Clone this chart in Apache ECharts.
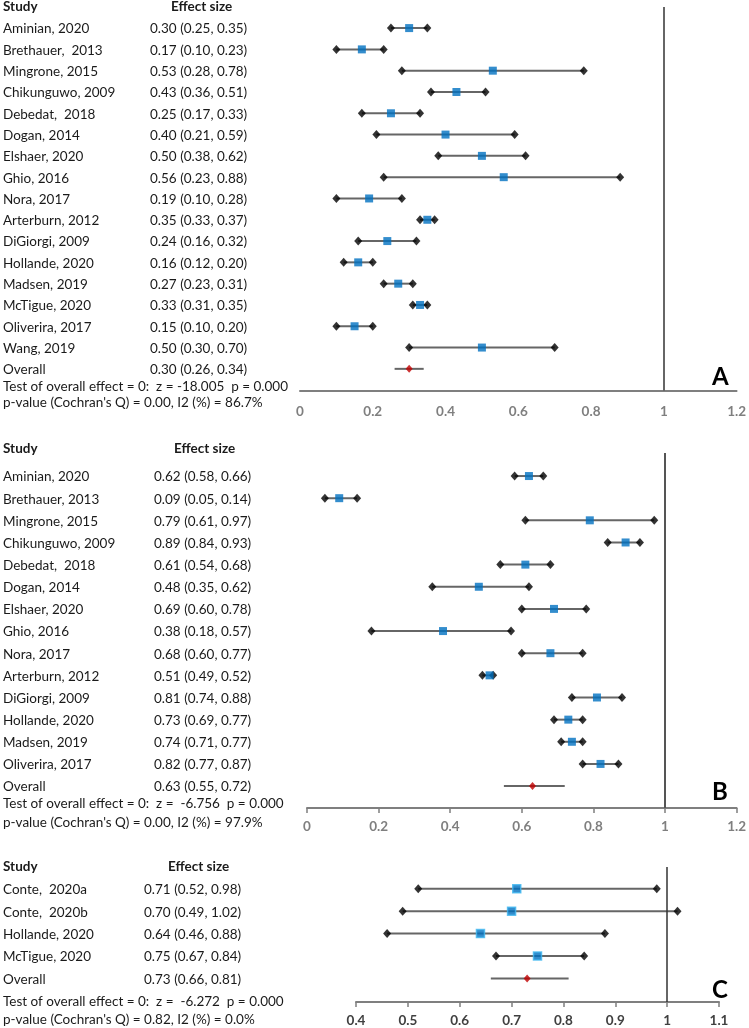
<!DOCTYPE html>
<html><head><meta charset="utf-8">
<script src="https://cdn.jsdelivr.net/npm/echarts@6/dist/echarts.min.js"></script>
<style>html,body{margin:0;padding:0;background:#fff}#c{width:749px;height:1028px}</style>
</head><body><div id="c"></div>
<script>
// ---------- Panel A ----------
const studiesA = ['Aminian, 2020','Brethauer,  2013','Mingrone, 2015','Chikunguwo, 2009','Debedat,  2018','Dogan, 2014','Elshaer, 2020','Ghio, 2016','Nora, 2017','Arterburn, 2012','DiGiorgi, 2009','Hollande, 2020','Madsen, 2019','McTigue, 2020','Oliverira, 2017','Wang, 2019'];
const esA = [0.30,0.17,0.53,0.43,0.25,0.40,0.50,0.56,0.19,0.35,0.24,0.16,0.27,0.33,0.15,0.50];
const loA = [0.25,0.10,0.28,0.36,0.17,0.21,0.38,0.23,0.10,0.33,0.16,0.12,0.23,0.31,0.10,0.30];
const hiA = [0.35,0.23,0.78,0.51,0.33,0.59,0.62,0.88,0.28,0.37,0.32,0.20,0.31,0.35,0.20,0.70];
const overallA = [0.30,0.26,0.34];
const testA = 'Test of overall effect = 0:  z = -18.005  p = 0.000';
const qA = "p-value (Cochran's Q) = 0.00, I2 (%) = 86.7%";

// ---------- Panel B ----------
const studiesB = ['Aminian, 2020','Brethauer, 2013','Mingrone, 2015','Chikunguwo, 2009','Debedat,  2018','Dogan, 2014','Elshaer, 2020','Ghio, 2016','Nora, 2017','Arterburn, 2012','DiGiorgi, 2009','Hollande, 2020','Madsen, 2019','Oliverira, 2017'];
const esB = [0.62,0.09,0.79,0.89,0.61,0.48,0.69,0.38,0.68,0.51,0.81,0.73,0.74,0.82];
const loB = [0.58,0.05,0.61,0.84,0.54,0.35,0.60,0.18,0.60,0.49,0.74,0.69,0.71,0.77];
const hiB = [0.66,0.14,0.97,0.93,0.68,0.62,0.78,0.57,0.77,0.52,0.88,0.77,0.77,0.87];
const overallB = [0.63,0.55,0.72];
const testB = 'Test of overall effect = 0:  z =  -6.756  p = 0.000';
const qB = "p-value (Cochran's Q) = 0.00, I2 (%) = 97.9%";

// ---------- Panel C ----------
const studiesC = ['Conte,  2020a','Conte,  2020b','Hollande, 2020','McTigue, 2020'];
const esC = [0.71,0.70,0.64,0.75];
const loC = [0.52,0.49,0.46,0.67];
const hiC = [0.98,1.02,0.88,0.84];
const overallC = [0.73,0.66,0.81];
const testC = 'Test of overall effect = 0:  z =  -6.272  p = 0.000';
const qC = "p-value (Cochran's Q) = 0.82, I2 (%) = 0.0%";

const FONT = 'Lato';
const chart = echarts.init(document.getElementById('c'), null, {renderer:'canvas'});

const panels = [
  {studies:studiesA, es:esA, lo:loA, hi:hiA, ov:overallA, test:testA, q:qA, letter:'A',
   grid:{left:300,right:9,top:7,bottom:637}, xmin:0, xmax:1.2, xint:0.2, ymin:-0.99, ymax:17.04,
   ticks:false, labColor:'#7f7f7f', sq:'#0070C0', sqBorder:'#0070C0', vline:'#666666', vw:2,
   sx:3, ex:150, hy:7, testY:[387,403], letterY:377, effHeadX:171},
  {studies:studiesB, es:esB, lo:loB, hi:hiB, ov:overallB, test:testB, q:qB, letter:'B',
   grid:{left:307,right:10,top:453,bottom:220}, xmin:0, xmax:1.2, xint:0.2, ymin:-1.04, ymax:14.99,
   ticks:true, labColor:'#7f7f7f', sq:'#0070C0', sqBorder:'#0070C0', vline:'#555555', vw:2,
   sx:3, ex:154, hy:449, testY:[804,823], letterY:792, effHeadX:174},
  {studies:studiesC, es:esC, lo:loC, hi:hiC, ov:overallC, test:testC, q:qC, letter:'C',
   grid:{left:356,right:30,top:867,bottom:24}, xmin:0.4, xmax:1.1, xint:0.1, ymin:-0.97, ymax:5.05,
   ticks:true, labColor:'#404040', sq:'#0070C0', sqBorder:'#3FB6F0', vline:'#333333', vw:1.5,
   sx:3, ex:144, hy:867, testY:[1002,1020], letterY:990, effHeadX:168}
];

const grids=[], xAxes=[], yAxes=[], series=[];
panels.forEach((p,g)=>{
  grids.push(p.grid);
  xAxes.push({type:'value', gridIndex:g, min:p.xmin, max:p.xmax, interval:p.xint,
    axisLine:{show:true, onZero:false, lineStyle:{color:'#7f7f7f', width:2}},
    axisTick:{show:p.ticks, length:5, lineStyle:{color:'#7f7f7f', width:1.5}},
    splitLine:{show:false},
    axisLabel:{color:p.labColor, fontFamily:FONT, fontSize:13.5, fontWeight:'bold', margin:p.ticks?12:14,
      formatter:v=>String(Math.round(v*10)/10)}});
  yAxes.push({type:'value', gridIndex:g, min:p.ymin, max:p.ymax, inverse:true, show:false});
  const n = p.studies.length;
  const ciData = p.studies.map((s,i)=>[p.lo[i],p.hi[i],i]);
  ciData.push([p.ov[1],p.ov[2],n]);
  series.push({type:'custom', xAxisIndex:g, yAxisIndex:g, z:1, data:ciData, silent:true,
    renderItem:(params,api)=>{
      const a=api.coord([api.value(0),api.value(2)]), b=api.coord([api.value(1),api.value(2)]);
      return {type:'line', shape:{x1:a[0],y1:a[1],x2:b[0],y2:b[1]}, style:{stroke:'#666666', lineWidth:2}};
    }});
  const ends=[];
  p.studies.forEach((s,i)=>{ends.push([p.lo[i],i]); ends.push([p.hi[i],i]);});
  series.push({type:'scatter', xAxisIndex:g, yAxisIndex:g, z:3, data:ends, symbol:'diamond', symbolSize:[8,9],
    itemStyle:{color:'#000000'}, silent:true});
  series.push({type:'scatter', xAxisIndex:g, yAxisIndex:g, z:4, data:p.es.map((v,i)=>[v,i]), symbol:'rect', symbolSize:8,
    itemStyle:{color:p.sq, borderColor:p.sqBorder, borderWidth:g===2?1.5:0}, silent:true});
  series.push({type:'scatter', xAxisIndex:g, yAxisIndex:g, z:4, data:[[p.ov[0],n]], symbol:'diamond', symbolSize:[7,8],
    itemStyle:{color:'#C00000'}, silent:true,
    markLine:{silent:true, symbol:'none', label:{show:false}, lineStyle:{color:p.vline, width:p.vw, type:'solid'},
      data:[{xAxis:1}]}});
});

chart.setOption({animation:false, grid:grids, xAxis:xAxes, yAxis:yAxes, series:series});

const fmt = v=>v.toFixed(2);
const texts=[];
const T=(x,y,txt,opt)=>texts.push({type:'text', x:x, y:y, style:Object.assign({text:txt, fill:'#1a1a1a', font:'13.5px '+FONT, textVerticalAlign:'middle'},opt||{})});
panels.forEach((p,g)=>{
  T(p.sx, p.hy, 'Study', {font:'bold 13.5px '+FONT});
  T(p.effHeadX, p.hy, 'Effect size', {font:'bold 13.5px '+FONT});
  const n=p.studies.length;
  p.studies.forEach((s,i)=>{
    const y = chart.convertToPixel({gridIndex:g},[p.xmin,i])[1]+1;
    T(p.sx, y, s);
    T(p.ex, y, fmt(p.es[i])+' ('+fmt(p.lo[i])+', '+fmt(p.hi[i])+')');
  });
  const yo = chart.convertToPixel({gridIndex:g},[p.xmin,n])[1]+1;
  T(p.sx, yo, 'Overall');
  T(p.ex, yo, fmt(p.ov[0])+' ('+fmt(p.ov[1])+', '+fmt(p.ov[2])+')');
  T(p.sx, p.testY[0], p.test);
  T(p.sx, p.testY[1], p.q);
  T(712, p.letterY, p.letter, {font:'bold 24px '+FONT, fill:'#000'});
});
chart.setOption({graphic:texts});
</script></body></html>
